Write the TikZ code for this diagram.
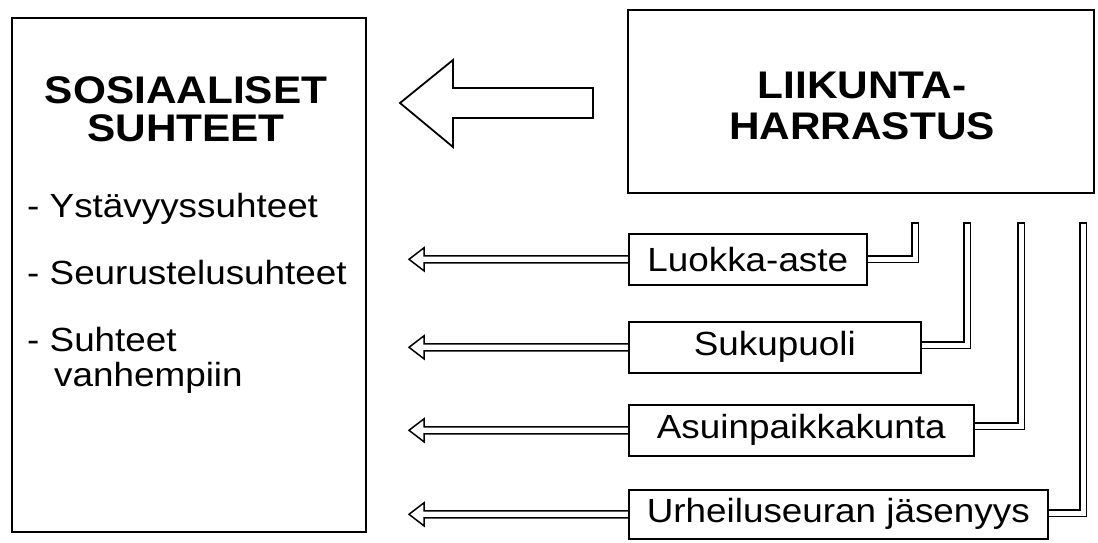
\documentclass[tikz,border=0pt]{standalone}
\usepackage{fontspec}
\setmainfont{Liberation Sans}[FakeStretch=1.1]
\usetikzlibrary{calc}
\pgfdeclarelayer{background}
\pgfdeclarelayer{paper}
\pgfsetlayers{paper,background,main}
\tikzset{
  box/.style={draw, fill=white, line width=1.6pt, inner sep=0pt},
  smallbox/.style={box, minimum height=51pt, anchor=north west, font=\fontsize{33.5}{36}\selectfont},
  dbl/.style={draw, line width=1.5pt, double=white, double distance=5pt, line cap=rect, line join=miter},
  hollow/.style={draw, line width=1.5pt, line join=miter},
  item/.style={anchor=base west, inner sep=0pt, font=\fontsize{33.5}{36}\selectfont},
  bigtitle/.style={align=center, inner sep=0pt},
}
\newcommand\hollowleft[1]{%
  \draw[hollow] ($(#1.west)+(0,-3.5)$) -- ++(-204,0) -- ++(0,-8) -- ++(-15,11.5)
    -- ++(15,11.5) -- ++(0,-8) -- ($(#1.west)+(0,3.5)$);}
\begin{document}
\begin{tikzpicture}[x=1pt,y=-1pt]
\begin{pgfonlayer}{paper}
\fill[white] (0,0) rectangle (1098,542);
\end{pgfonlayer}
\useasboundingbox (0,0) rectangle (1098,542);

% left box
\node[box, minimum width=354pt, minimum height=514pt] (soc) at (189,275) {};
\node[bigtitle, font=\fontsize{38.5}{38}\selectfont\bfseries] (soctitle) at (186,109) {SOSIAALISET\\SUHTEET};
\node[item] (i1) at (27,217) {- Ystävyyssuhteet};
\node[item] (i2) at (27,284) {- Seurustelusuhteet};
\node[item] (i3) at (27,351) {- Suhteet};
\node[item] (i3b) at (54,386) {vanhempiin};

% top right box
\node[box, minimum width=466pt, minimum height=183pt] (liik) at (861,101.5) {};
\node[bigtitle, font=\fontsize{38.5}{41}\selectfont\bfseries] (liiktext) at (862,106) {LIIKUNTA-\\HARRASTUS};

% big hollow arrow
\coordinate (bigtail) at (593,103);
\coordinate (bigtip) at (400,103);
\draw[hollow, line width=1.8pt] ($(bigtail)+(0,-15)$) -- ++(-140,0) -- ++(0,-28) -- (bigtip)
  -- ($(bigtail)+(-140,44)$) -- ++(0,-29) -- ($(bigtail)+(0,15)$) -- cycle;

% factor boxes
\node[smallbox, minimum width=238pt] (b1) at (628,233) {Luokka-aste};
\node[smallbox, minimum width=292pt] (b2) at (628,321) {Sukupuoli};
\node[smallbox, minimum width=345pt] (b3) at (628,404) {Asuinpaikkakunta};
\node[smallbox, minimum width=419pt, minimum height=49pt] (b4) at (628,489) {Urheiluseuran jäsenyys};

% double connectors
\coordinate (t1) at (915,226);
\coordinate (t2) at (967,226);
\coordinate (t3) at (1021,226);
\coordinate (t4) at (1083,226);
\begin{pgfonlayer}{background}
\draw[dbl] (b1.east) -| (t1);
\draw[dbl] ($(b2.east)+(0,-2)$) -| (t2);
\draw[dbl] ($(b3.east)+(0,-4)$) -| (t3);
\draw[dbl] ($(b4.east)+(0,-1)$) -| (t4);
\end{pgfonlayer}

% hollow arrows to the left
\hollowleft{b1}
\hollowleft{b2}
\hollowleft{b3}
\hollowleft{b4}
\end{tikzpicture}
\end{document}
